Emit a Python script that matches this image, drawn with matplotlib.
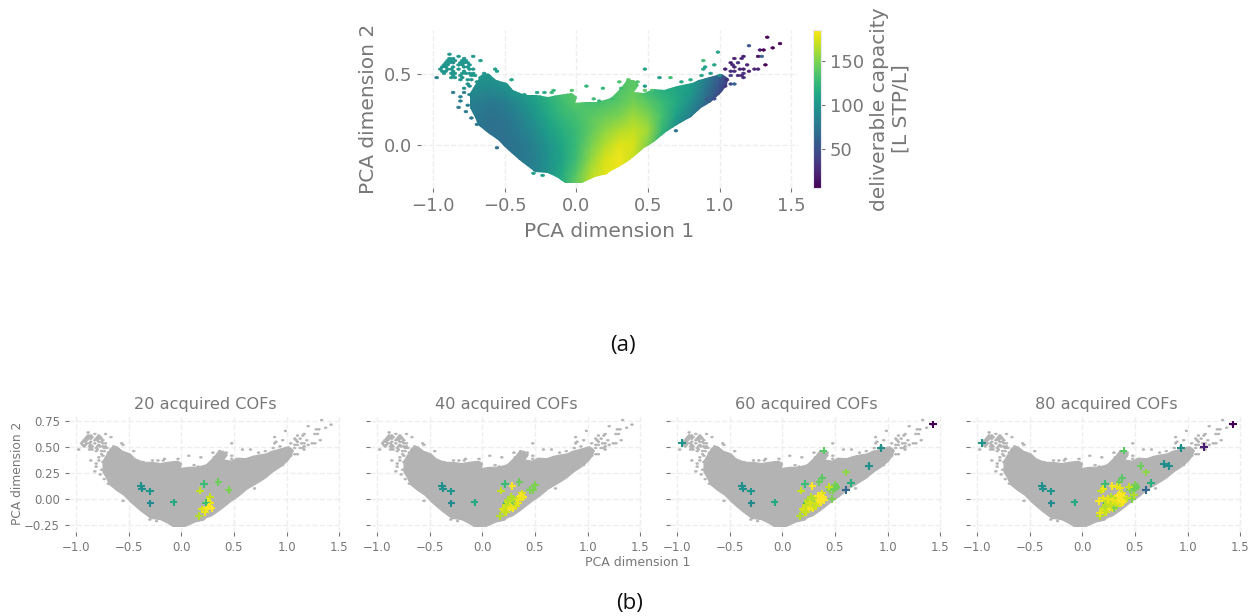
import matplotlib
matplotlib.use('Agg')
import matplotlib.pyplot as plt
from matplotlib.colors import ListedColormap
from matplotlib.patches import Polygon

W, H = 1257, 616
GREY = '#777777'
VMIN, VMAX = 5, 186

grid_x = [-0.8, -0.7, -0.6, -0.5, -0.4, -0.3, -0.2, -0.1, 0.0, 0.1, 0.2, 0.3, 0.4, 0.5, 0.6, 0.7, 0.8, 0.9, 1.0, 1.1, 1.2]
grid_y = [0.5, 0.4, 0.3, 0.2, 0.1, 0.0, -0.1, -0.2, -0.3]
capacity = [
    [100, 100, 100, 105, 108, 115, 125, 135, 140, 135, 130, 135, 140, 120, 115, 110, 105, 85, 60, 35, 20],
    [95, 92, 90, 95, 105, 112, 122, 135, 140, 130, 128, 135, 142, 125, 118, 112, 105, 78, 50, 28, 15],
    [85, 82, 78, 82, 92, 105, 118, 130, 138, 132, 135, 140, 148, 140, 128, 115, 95, 68, 40, 25, 15],
    [80, 78, 72, 75, 85, 98, 112, 125, 132, 140, 145, 150, 160, 152, 132, 105, 80, 55, 35, 25, 15],
    [78, 76, 72, 72, 80, 90, 105, 118, 128, 142, 155, 165, 170, 160, 125, 90, 70, 50, 35, 25, 15],
    [78, 76, 74, 72, 76, 85, 98, 112, 128, 148, 165, 178, 175, 150, 110, 85, 65, 50, 35, 25, 15],
    [78, 76, 75, 74, 76, 82, 95, 110, 130, 156, 175, 182, 170, 140, 110, 85, 65, 50, 35, 25, 15],
    [80, 78, 76, 76, 80, 85, 98, 115, 138, 165, 178, 180, 165, 140, 110, 85, 65, 50, 35, 25, 15],
    [80, 78, 76, 76, 80, 88, 100, 120, 145, 168, 178, 178, 165, 140, 110, 85, 65, 50, 35, 25, 15],
]

# edge of the dense part of the cloud
cloud_x = [-0.744, -0.709, -0.662, -0.615, -0.557, -0.487, -0.441, -0.359, -0.277, -0.196, -0.126, -0.033, 0.002, -0.009,
           0.084, 0.154, 0.239, 0.309, 0.355, 0.402, 0.437, 0.402, 0.472, 0.542, 0.612, 0.682, 0.740, 0.810, 0.857, 0.903,
           0.985, 1.020, 1.060, 1.050, 1.008, 0.938, 0.868, 0.798, 0.705, 0.624, 0.542, 0.472, 0.414, 0.355, 0.286, 0.239,
           0.212, 0.130, 0.037, -0.079, -0.126, -0.196, -0.289, -0.382, -0.476, -0.545, -0.615, -0.685, -0.709, -0.744]
cloud_y = [0.362, 0.421, 0.491, 0.502, 0.456, 0.432, 0.386, 0.351, 0.351, 0.339, 0.351, 0.362, 0.339, 0.293,
           0.304, 0.304, 0.328, 0.397, 0.456, 0.456, 0.421, 0.374, 0.362, 0.390, 0.386, 0.409, 0.421, 0.432, 0.456, 0.467,
           0.491, 0.500, 0.470, 0.420, 0.362, 0.304, 0.258, 0.199, 0.141, 0.094, 0.024, -0.022, -0.069, -0.115, -0.162, -0.178,
           -0.202, -0.220, -0.262, -0.262, -0.232, -0.197, -0.185, -0.115, -0.034, 0.036, 0.083, 0.141, 0.199, 0.258]

# single hexagons away from the dense part
stray_x = [-0.883, -0.860, -0.814, -0.713, -0.667, -0.918, -0.883, -0.848, -0.779, -0.755, -0.953, -0.918, -0.872, -0.825,
           -0.767, -0.732, -0.942, -0.883, -0.837, -0.802, -0.744, -0.709, -0.965, -0.848, -0.790, -0.573, -0.550, -0.767,
           -0.860, -0.790, -0.755, -0.814, -0.802, -0.767, -0.814, -0.779, -0.737, -0.697, -0.545, -0.448, 0.061, 0.182,
           -0.301, -0.238, -0.900, -0.860, -0.800, -0.900, -0.860, -0.770, -0.925, -0.780, -0.840, -0.810,
           1.330, 1.428, 1.199, 1.283, 1.318, 1.379, 0.985, 1.115, 1.164, 1.148, 1.269, 1.295, 0.875, 0.962, 0.892, 0.892,
           1.141, 1.199, 1.188, 1.318, 1.043, 1.090, 1.106, 1.143, 1.237, 1.260, 1.213, 1.160, 0.484, 0.589, 0.652, 0.733,
           0.794, 0.481, 0.472, 0.698, 1.101,
           -0.359, -0.277, -0.219, -0.154, -0.177, -0.033, 0.124, 0.161, 0.247, -0.457, 0.309, 0.355, 0.421, 0.304, 0.530,
           0.873, 0.938, 0.997, 1.066, 1.066, 1.031, 0.962, 0.915, 1.113, 1.043, 1.078, 1.160,
           -0.890, -0.865, -0.905, -0.785, -0.760, -0.930, -0.895, -0.820, -0.795, -0.745, -0.935, -0.900, -0.850, -0.780,
           -0.755, -0.720, -0.920, -0.865, -0.820, -0.770, -0.735, -0.905, -0.860, -0.810, -0.760, -0.725, -0.865, -0.830,
           -0.690, -0.665, -0.640, -0.775, -0.750, 1.090, 1.110, 1.130, 1.150, 1.180]
stray_y = [0.631, 0.607, 0.619, 0.619, 0.600, 0.572, 0.572, 0.572, 0.584, 0.572, 0.537, 0.544, 0.537, 0.530,
           0.549, 0.530, 0.514, 0.502, 0.502, 0.502, 0.491, 0.479, 0.467, 0.472, 0.479, 0.530, 0.514, 0.432,
           0.369, 0.369, 0.351, 0.334, 0.304, 0.274, 0.265, 0.239, 0.195, 0.148, -0.015, 0.451, 0.414, 0.397,
           -0.192, -0.211, 0.555, 0.550, 0.600, 0.520, 0.520, 0.510, 0.560, 0.540, 0.590, 0.560,
           0.749, 0.714, 0.689, 0.661, 0.670, 0.679, 0.652, 0.607, 0.624, 0.607, 0.614, 0.614, 0.591, 0.565, 0.544, 0.526,
           0.572, 0.561, 0.556, 0.565, 0.535, 0.554, 0.544, 0.530, 0.537, 0.537, 0.521, 0.502, 0.530, 0.467, 0.474, 0.449,
           0.458, 0.409, 0.381, 0.106, 0.432,
           0.362, 0.374, 0.362, 0.379, 0.362, 0.379, 0.316, 0.311, 0.328, 0.456, 0.444, 0.460, 0.437, 0.397, 0.386,
           0.491, 0.498, 0.491, 0.491, 0.432, 0.409, 0.316, 0.328, 0.432, 0.456, 0.514, 0.526,
           0.600, 0.590, 0.590, 0.600, 0.590, 0.550, 0.555, 0.575, 0.560, 0.555, 0.525, 0.525, 0.520, 0.520,
           0.530, 0.510, 0.495, 0.490, 0.485, 0.500, 0.500, 0.530, 0.470, 0.465, 0.465, 0.455, 0.525, 0.535,
           0.440, 0.470, 0.500, 0.400, 0.410, 0.580, 0.520, 0.490, 0.480, 0.470]
stray_c = [100, 100, 100, 100, 105, 100, 100, 95, 100, 100, 100, 100, 100, 100,
           100, 100, 100, 100, 100, 100, 100, 100, 80, 95, 95, 110, 105, 95,
           75, 80, 85, 85, 85, 80, 75, 75, 75, 75, 70, 115, 125, 125,
           105, 105, 100, 100, 100, 100, 100, 100, 100, 100, 100, 100,
           5, 5, 50, 20, 5, 5, 110, 20, 20, 25, 10, 60, 130, 110, 110, 110,
           30, 25, 25, 5, 20, 25, 25, 25, 25, 25, 20, 30, 110, 105, 130, 115,
           120, 100, 140, 70, 60,
           105, 110, 115, 125, 125, 135, 130, 125, 130, 105, 135, 140, 135, 130, 135,
           110, 105, 100, 35, 45, 35, 50, 55, 60, 30, 25, 20,
           100, 100, 100, 100, 100, 100, 100, 100, 100, 100, 100, 100, 100, 100,
           100, 100, 100, 100, 100, 100, 100, 100, 100, 100, 100, 100, 100, 100,
           100, 100, 100, 95, 95, 20, 25, 25, 25, 25]

# acquired COFs in order, each panel shows the first n of them
acq_x = [-0.381, -0.375, -0.296, -0.293, -0.074, 0.215, 0.352, 0.450, 0.180, 0.275, 0.256, 0.266, 0.196, 0.225, 0.247, 0.288, 0.272, 0.168, 0.234, 0.266,
         0.503, 0.484, 0.287, 0.376, 0.354, 0.385, 0.331, 0.274, 0.242, 0.306, 0.226, 0.338, 0.204, 0.274, 0.322, 0.369, 0.242, 0.296, 0.376, 0.217,
         1.430, -0.952, 0.936, 0.825, 0.392, 0.605, 0.382, 0.654, 0.605, 0.443, 0.516, 0.503, 0.475, 0.369, 0.401, 0.354, 0.338, 0.382, 0.268, 0.299,
         1.159, 0.774, 0.554, 0.201, 0.357, 0.328, 0.494, 0.156, 0.194, 0.242, 0.296, 0.347, 0.401, 0.369, 0.166, 0.217, 0.306, 0.385, 0.424, 0.274]
acq_y = [0.125, 0.099, 0.073, -0.042, -0.032, 0.141, 0.160, 0.086, 0.080, 0.022, -0.026, -0.042, -0.099, -0.121, -0.089, -0.089, -0.042, -0.160, -0.035, -0.073,
         0.134, 0.086, 0.125, 0.054, 0.016, 0.016, -0.010, 0.016, -0.026, -0.042, -0.058, -0.042, -0.105, -0.080, -0.067, 0.029, -0.010, 0.006, 0.013, -0.121,
         0.713, 0.538, 0.490, 0.318, 0.462, 0.255, 0.204, 0.153, 0.086, 0.118, 0.118, 0.099, 0.003, -0.026, -0.010, -0.010, 0.029, 0.006, -0.042, -0.067,
         0.500, 0.332, 0.316, 0.093, 0.109, 0.118, 0.035, -0.016, 0.006, 0.003, -0.019, 0.038, 0.022, -0.042, -0.137, -0.073, -0.089, -0.026, 0.006, -0.058]
acq_c = [95, 95, 100, 90, 115, 130, 145, 150, 170, 170, 185, 185, 175, 180, 185, 185, 180, 165, 130, 185,
         150, 150, 185, 175, 180, 185, 180, 165, 170, 150, 170, 180, 175, 180, 175, 185, 165, 165, 180, 170,
         5, 100, 95, 95, 140, 155, 140, 120, 65, 170, 145, 145, 150, 185, 185, 185, 185, 185, 175, 170,
         20, 95, 145, 180, 180, 180, 165, 185, 180, 180, 180, 185, 185, 180, 180, 165, 150, 185, 170, 170]

n_acquired = [20, 40, 60, 80]
panel_left = [69, 370, 670, 970]
HEX = dict(gridsize=(100, 37), extent=(-1.0, 1.55, -0.3, 0.8), linewidths=0.4, edgecolors='face')


def axes_px(left, top, right, bottom):
    return fig.add_axes([left / W, 1 - bottom / H, (right - left) / W, (bottom - top) / H])


def style_axes(ax, size, xlim, ylim):
    ax.set_xlim(xlim)
    ax.set_ylim(ylim)
    for s in ax.spines.values():
        s.set_visible(False)
    ax.grid(True, color='#eeeeee', ls='--', lw=1.0)
    ax.set_axisbelow(True)
    ax.tick_params(colors=GREY, labelsize=size, length=3, width=0.8)


def draw_cloud(ax, color=None):
    outline = Polygon(list(zip(cloud_x, cloud_y)), transform=ax.transData, fc=color or 'none', ec=color or 'none', lw=0.8)
    ax.add_patch(outline)
    if color is None:
        mesh = ax.pcolormesh(grid_x, grid_y, capacity, shading='gouraud', cmap='viridis', vmin=VMIN, vmax=VMAX)
        mesh.set_clip_path(outline)
        ax.hexbin(stray_x, stray_y, C=stray_c, cmap='viridis', vmin=VMIN, vmax=VMAX, **HEX)
        return mesh
    ax.hexbin(stray_x, stray_y, cmap=ListedColormap([color]), mincnt=1, **HEX)


fig = plt.figure(figsize=(W / 100, H / 100), dpi=100)

ax = axes_px(421, 30, 798, 188)
style_axes(ax, 13, (-1.084, 1.548), (-0.299, 0.806))
mesh = draw_cloud(ax)
ax.set_xticks([-1.0, -0.5, 0.0, 0.5, 1.0, 1.5])
ax.set_yticks([0.0, 0.5])
ax.set_xlabel('PCA dimension 1', fontsize=14.5, color=GREY, labelpad=5)
ax.set_ylabel('PCA dimension 2', fontsize=14.5, color=GREY, labelpad=4)

cax = axes_px(813, 30, 821, 188)
cb = fig.colorbar(mesh, cax=cax)
cb.set_ticks([50, 100, 150])
cb.ax.tick_params(colors=GREY, labelsize=13, length=3, width=0.8)
cb.outline.set_edgecolor('#e6e6ee')
cb.set_label('deliverable capacity\n[L STP/L]', fontsize=14.5, color=GREY, labelpad=4, linespacing=1.2)

for i, n in enumerate(n_acquired):
    left = panel_left[i]
    ax = axes_px(left, 415, left + 273, 532)
    style_axes(ax, 8.5, (-1.067, 1.527), (-0.315, 0.803))
    draw_cloud(ax, '#b3b3b3')
    ax.scatter(acq_x[:n], acq_y[:n], c=acq_c[:n], cmap='viridis', vmin=VMIN, vmax=VMAX, marker='+', s=30, linewidths=1.5, zorder=3)
    ax.set_xticks([-1.0, -0.5, 0.0, 0.5, 1.0, 1.5])
    ax.set_yticks([-0.25, 0.0, 0.25, 0.5, 0.75])
    ax.set_title(f'{n} acquired COFs', fontsize=11.6, color=GREY, pad=4)
    if i == 0:
        ax.set_yticklabels(['−0.25', '0.00', '0.25', '0.50', '0.75'])
        ax.set_ylabel('PCA dimension 2', fontsize=8.8, color=GREY, labelpad=0)
    else:
        ax.set_yticklabels([])

fig.text(638 / W, 1 - 563 / H, 'PCA dimension 1', fontsize=9, color=GREY, ha='center', va='center')
fig.text(623 / W, 1 - 346 / H, '(a)', fontsize=16, color='#111111', ha='center', va='center', family='Open Sans')
fig.text(630 / W, 1 - 604 / H, '(b)', fontsize=16, color='#111111', ha='center', va='center', family='Open Sans')

fig.savefig('out.png', dpi=100)
